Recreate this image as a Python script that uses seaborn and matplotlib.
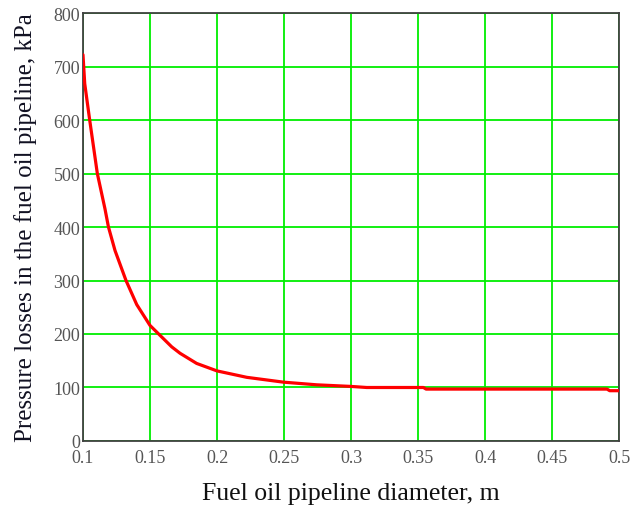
import matplotlib
matplotlib.use("Agg")
import matplotlib.pyplot as plt
import seaborn as sns
import pandas as pd

diameter = [0.1000, 0.1013, 0.1050, 0.1107, 0.1164, 0.1190, 0.1239, 0.1321, 0.1401,
            0.1500, 0.1662, 0.1724, 0.1848, 0.2000, 0.2222, 0.2495, 0.2744, 0.3000,
            0.3117, 0.3540, 0.3560, 0.4910, 0.4930, 0.5000]
pressure = [722, 668, 600, 500, 434, 400, 356, 300, 255,
            216, 176, 164, 145, 131, 119, 110, 105, 102,
            100, 100, 97, 97, 94, 94]

x_ticks = [0.1, 0.15, 0.2, 0.25, 0.3, 0.35, 0.4, 0.45, 0.5]
x_tick_labels = ["0.1", "0.15", "0.2", "0.25", "0.3", "0.35", "0.4", "0.45", "0.5"]
y_ticks = [0, 100, 200, 300, 400, 500, 600, 700, 800]

df = pd.DataFrame({"d": diameter, "p": pressure})

sns.set_style("white")
plt.rcParams["font.family"] = ["Liberation Serif", "DejaVu Serif"]

fig = plt.figure(figsize=(6.33, 5.06), dpi=100)
ax = fig.add_axes([0.1311, 0.1265, 0.8469, 0.8458])

sns.lineplot(data=df, x="d", y="p", ax=ax, color="#ff0000", linewidth=2.3, zorder=3)

ax.set_xlim(0.1, 0.5)
ax.set_ylim(0, 800)
ax.set_xticks(x_ticks)
ax.set_xticklabels(x_tick_labels)
ax.set_yticks(y_ticks)
ax.grid(True, color="#00ee00", linewidth=1.3, zorder=1)
ax.set_axisbelow(True)
ax.tick_params(axis="both", length=0, labelsize=13, labelcolor="#555555")
ax.tick_params(axis="x", pad=6)
ax.tick_params(axis="y", pad=2)
for s in ax.spines.values():
    s.set_color("#404040")
    s.set_linewidth(1.3)

ax.set_xlabel("Fuel oil pipeline diameter, m", fontsize=18.5, color="#111111", labelpad=11)
ax.set_ylabel("Pressure losses in the fuel oil pipeline, kPa", fontsize=18, color="#111122")
ax.yaxis.set_label_coords(-0.086, 0.5)

fig.savefig("out.png", dpi=100)
